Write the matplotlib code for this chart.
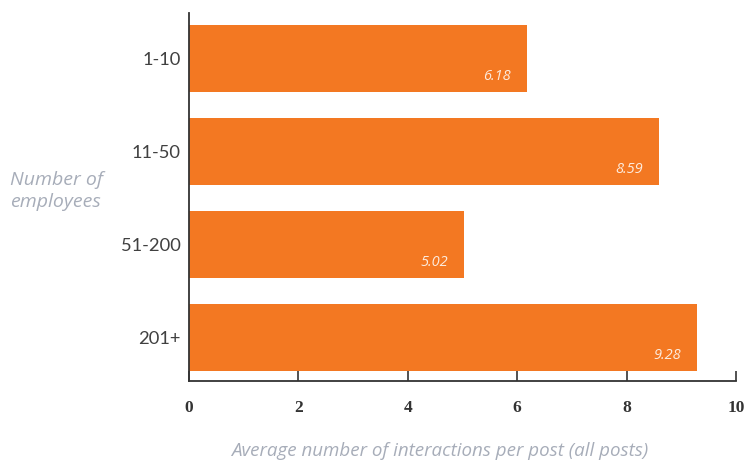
import matplotlib
matplotlib.use("Agg")
import matplotlib.pyplot as plt

categories = ["1-10", "11-50", "51-200", "201+"]
values = [6.18, 8.59, 5.02, 9.28]
value_labels = ["6.18", "8.59", "5.02", "9.28"]
xticks = [0, 2, 4, 6, 8, 10]

orange = "#F37822"
grey_text = "#A7ADB9"

fig = plt.figure(figsize=(7.47, 4.62), dpi=100)
ax = fig.add_axes([189/747, 1-381/462, (736-189)/747, (381-13)/462])

ypos = list(range(len(categories)))
ax.barh(ypos, values, height=0.72, color=orange, edgecolor="none")
ax.set_ylim(3.468, -0.489)
ax.set_xlim(0, 10)

for y, v, lab in zip(ypos, values, value_labels):
    ax.text(v - 0.29, y + 0.19, lab, ha="right", va="center", color="#FDEBDD",
            fontsize=10.5, style="italic", family="Open Sans")

ax.set_yticks(ypos)
ax.set_yticklabels(categories, fontsize=13.2, color="#404040", family="Lato")
ax.tick_params(axis="y", length=0, pad=6)
ax.set_xticks(xticks)
ax.set_xticklabels([str(t) for t in xticks], fontsize=12.5, fontweight="bold",
                   color="#333333", family="Liberation Serif")
ax.tick_params(axis="x", direction="in", length=7, width=1.2, color="#333333", pad=14)

for s in ["top", "right"]:
    ax.spines[s].set_visible(False)
for s in ["left", "bottom"]:
    ax.spines[s].set_color("#333333")
    ax.spines[s].set_linewidth(1.3)

fig.text(10/747, 1-191/462, "Number of\nemployees", ha="left", va="center",
         color=grey_text, fontsize=14, style="italic", family="Open Sans",
         linespacing=1.35)
fig.text(440/747, 1-451/462, "Average number of interactions per post (all posts)",
         ha="center", va="center", color=grey_text, fontsize=13.5, style="italic",
         family="Open Sans")

fig.savefig("out.png", dpi=100)
